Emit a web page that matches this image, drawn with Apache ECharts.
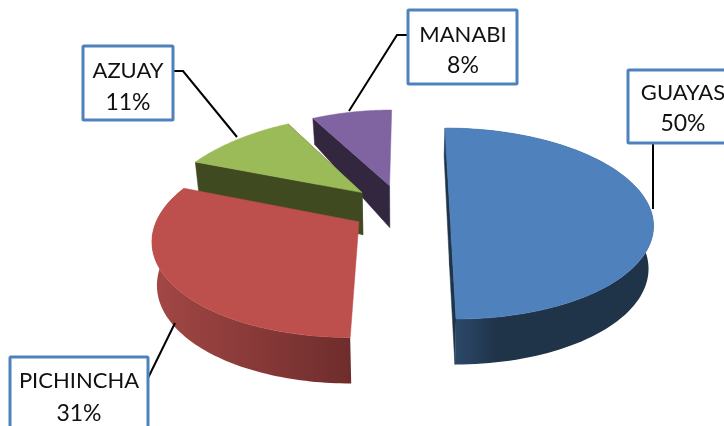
<!DOCTYPE html>
<html>
<head>
<meta charset="utf-8">
<style>html,body{margin:0;padding:0;background:#fff}#c{width:724px;height:426px}</style>
<script src="https://cdn.jsdelivr.net/npm/echarts@6/dist/echarts.min.js"></script>
</head>
<body>
<div id="c"></div>
<script>
// data
var categories = ['GUAYAS', 'PICHINCHA', 'AZUAY', 'MANABI'];
var percents = [50, 31, 11, 8];

// styles
var topColors = ['#4f81bd', '#bd4f4c', '#9bbb59', '#8064a2'];
var edgeColors = ['#1f3349', '#6e2d2c', '#404a20', '#32273f'];
var arcStops = [
  [[0, '#2b4868'], [0.22, '#1f3349'], [1, '#1f3349']],
  [[0, '#a24745'], [1, '#6e2d2c']],
  null, null
];
var arcSpan = [[456, 650], [155, 350], null, null];
var radialWalls = [[0, 180], [], [291.6, 331.2], [331.2]];

// view of the 3D pie
var CX = 402, CY = 208, RX = 200, RY = 92, EXPLODE = 0.26;
var PERSP_FRONT = 0.162, PERSP_BACK_Y = 0.14, PERSP_BACK_X = 0.2;
var nudgeX = [0, 1, -2, 0];
var widthScale = [1, 0.99, 1, 1];
var BOTTOM_SHRINK = 0.98;
// the large exploded slice sits on its own ellipse: centre x, centre y, rx, ry, lean
var ownEllipse = [[450.5, 223.5, 203, 95.5, 5.5], null, null, null];

// callouts
var boxes = [[628, 70, 112, 73], [10, 357, 138, 76], [83, 46, 90, 74], [408, 10, 109, 74]];
var textX = [683, 79, 128, 463];
var textY = [[93, 124], [381, 414], [71, 103], [35, 66]];
var leaders = [
  [[653, 143], [653, 209]],
  [[148, 378], [175, 323]],
  [[173, 71], [183, 71], [237, 137]],
  [[408, 35], [397, 35], [349, 111]]
];

var total = percents.reduce(function (a, b) { return a + b; }, 0);
var starts = [];
percents.reduce(function (acc, v, i) { starts[i] = acc; return acc + v; }, 0);

function rad(d) { return d * Math.PI / 180; }
function blend(front, back, y) {
  var t = Math.min(1, Math.max(0, -y));
  t = t * t * (3 - 2 * t);
  return front + (back - front) * t;
}
function projector(i, ex) {
  var e = ownEllipse[i];
  return function (m) {
    var y = m[1];
    if (e) return [e[0] + (m[0] - ex) * e[2] + e[4] * y, e[1] + e[3] * y];
    var sx = 1 / (1 - blend(PERSP_FRONT, PERSP_BACK_X, y) * y);
    var sy = 1 / (1 - blend(PERSP_FRONT, PERSP_BACK_Y, y) * y);
    return [CX + nudgeX[i] + RX * (ex + (m[0] - ex) * widthScale[i]) * sx, CY + RY * y * sy];
  };
}
function depth(ym) {
  var s = 1 / (1 - PERSP_FRONT * ym);
  return s < 0.96 ? 42 - (0.96 - s) * 139 : 42 + (s - 0.96) * 15;
}

function renderSlice(params, api) {
  var i = api.value(0), v = api.value(1);
  var a0 = starts[i] / total * 360, a1 = a0 + v / total * 360, mid = (a0 + a1) / 2;
  var ex = EXPLODE * Math.sin(rad(mid)), ey = -EXPLODE * Math.cos(rad(mid));
  var project = projector(i, ex);
  var drop = function (m) {
    var p = project(m);
    return [CX + (p[0] - CX) * BOTTOM_SHRINK, p[1] + depth(m[1])];
  };
  var model = function (deg) { return [ex + Math.sin(rad(deg)), ey - Math.cos(rad(deg))]; };
  var apexM = [ex, ey];
  var arcM = [];
  var N = 90;
  for (var k = 0; k <= N; k++) arcM.push(model(a0 + (a1 - a0) * k / N));
  var children = [];
  var z2 = 10 - i;

  radialWalls[i].forEach(function (deg) {
    var o = model(deg);
    children.push({
      type: 'polygon', z2: z2,
      shape: { points: [project(apexM), project(o), drop(o), drop(apexM)] },
      style: { fill: edgeColors[i], stroke: edgeColors[i], lineWidth: 0.5 }
    });
  });
  if (arcStops[i]) {
    children.push({
      type: 'polygon', z2: z2,
      shape: { points: arcM.map(project).concat(arcM.slice().reverse().map(drop)) },
      style: {
        fill: new echarts.graphic.LinearGradient(arcSpan[i][0], 0, arcSpan[i][1], 0,
          arcStops[i].map(function (s) { return { offset: s[0], color: s[1] }; }), true)
      }
    });
  }
  children.push({
    type: 'polygon', z2: z2,
    shape: { points: [project(apexM)].concat(arcM.map(project)) },
    style: { fill: topColors[i], stroke: topColors[i], lineWidth: 0.5 }
  });
  return { type: 'group', children: children };
}

function renderCallout(params, api) {
  var i = api.value(0), b = boxes[i];
  return {
    type: 'group',
    children: [
      { type: 'polyline', z2: 20, shape: { points: leaders[i] },
        style: { fill: null, stroke: '#000', lineWidth: 2 } },
      { type: 'rect', z2: 21, shape: { x: b[0], y: b[1], width: b[2], height: b[3], r: 1 },
        style: { fill: '#fff', stroke: '#4f81bd', lineWidth: 3 } },
      { type: 'text', z2: 22, x: textX[i], y: textY[i][0],
        style: { text: categories[i], fill: '#111', font: '22px Lato', align: 'center', verticalAlign: 'middle' } },
      { type: 'text', z2: 22, x: textX[i], y: textY[i][1],
        style: { text: api.value(1) + '%', fill: '#111', font: '23px Lato', align: 'center', verticalAlign: 'middle' } }
    ]
  };
}

var rows = percents.map(function (v, i) { return [i, v]; });
var chart = echarts.init(document.getElementById('c'), null, { renderer: 'canvas' });
chart.setOption({
  backgroundColor: '#fff',
  animation: false,
  series: [
    { type: 'custom', coordinateSystem: 'none', data: rows.slice().reverse(), renderItem: renderSlice, silent: true },
    { type: 'custom', coordinateSystem: 'none', data: rows, renderItem: renderCallout, silent: true, z: 5 }
  ]
});
</script>
</body>
</html>
